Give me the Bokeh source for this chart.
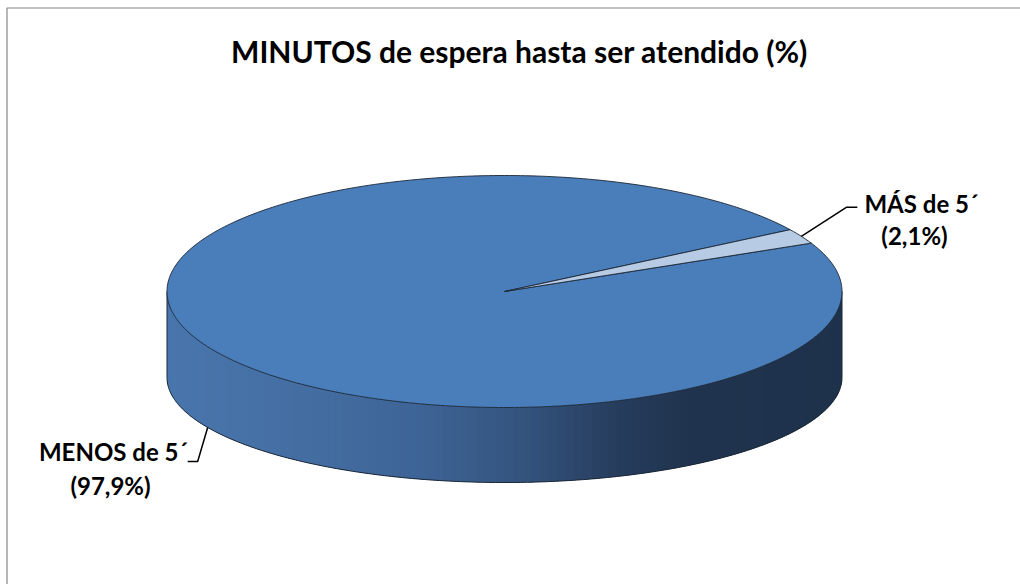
import numpy as np
from bokeh.plotting import figure
from bokeh.models import Range1d
from bokeh.embed import file_html
from bokeh.resources import INLINE
from bokeh.core.properties import value

# ---- data ----
categories = ["MENOS de 5´", "MÁS de 5´"]
values = [97.9, 2.1]
pct_labels = ["(97,9%)", "(2,1%)"]
slice_colors = ["#4A7EBB", "#B7CBE4"]
title = "MINUTOS de espera hasta ser atendido (%)"

# ---- layout ----
W, H = 1020, 584
p = figure(width=W, height=H, x_range=Range1d(0, W), y_range=Range1d(H, 0),
           output_backend="svg", toolbar_location=None, min_border=0)
p.axis.visible = False
p.grid.visible = False
p.outline_line_color = None
p.background_fill_color = "white"
p.border_fill_color = "white"

FONT = value("Lato")
cx, cy, rx, ry = 504.0, 291.0, 337.5, 116.0      # top ellipse
cyb, ryb = 377.0, 105.0                           # bottom ellipse (perspective)
start_deg = 32.2                                  # first slice starts here (parametric, ccw)
edge = "#1a2636"

def top_pt(t):
    return cx + rx * np.cos(t), cy - ry * np.sin(t)

def bot_pt(t):
    return cx + rx * np.cos(t), cyb - ryb * np.sin(t)

# chart-area border
p.quad(left=[6.5], right=[1040], top=[7.5], bottom=[620], fill_color=None,
       line_color="#878787", line_width=1.2)

# ---- side (front half) with horizontal gradient ----
stops_x = [167, 260, 420, 520, 620, 690, 842]
stops_c = [(72, 117, 172), (70, 113, 166), (62, 100, 150), (52, 84, 126),
           (38, 60, 92), (32, 51, 78), (31, 50, 76)]

def grad(x):
    return "#%02x%02x%02x" % tuple(int(round(np.interp(x, stops_x, [c[k] for c in stops_c]))) for k in range(3))

N = 120
ts = np.linspace(np.pi, 2 * np.pi, N + 1)
xs_s, ys_s, cs_s = [], [], []
for i in range(N):
    t1 = ts[min(i + 2, N)]
    tt = np.linspace(ts[i], t1, 6)
    tx, ty = top_pt(tt)
    bx, by = bot_pt(tt[::-1])
    xs_s.append(list(np.r_[tx, bx]))
    ys_s.append(list(np.r_[ty, by]))
    cs_s.append(grad(np.mean(top_pt(np.linspace(ts[i], ts[i + 1], 3))[0])))
p.patches(xs_s, ys_s, fill_color=cs_s, line_color=None)

tt = np.linspace(np.pi, 2 * np.pi, 300)
bx, by = bot_pt(tt)
p.line(list(bx), list(by), line_color=edge, line_width=1)
p.line([cx - rx, cx - rx], [cy, cyb], line_color=edge, line_width=1)
p.line([cx + rx, cx + rx], [cy, cyb], line_color=edge, line_width=1)

# ---- top slices ----
total = float(sum(values))
a = np.deg2rad(start_deg)
mids = []
for v, col in zip(values, slice_colors):
    span = 2 * np.pi * v / total
    tt = np.linspace(a, a + span, max(4, int(400 * v / total)))
    px, py = top_pt(tt)
    p.patch(list(np.r_[cx, px, cx]), list(np.r_[cy, py, cy]), fill_color=col,
            line_color=edge, line_width=0.9, line_join="round")
    mids.append(a + span / 2)
    a += span

# ---- labels with leader lines ----
# MENOS (big slice): anchor on bottom rim
ax0, ay0 = bot_pt(mids[0])
p.line([ax0, ax0 - 10, ax0 - 20], [ay0, ay0 + 34, ay0 + 34], line_color="black", line_width=1.5)
p.text(x=[113], y=[451], text=[categories[0]], text_font=FONT, text_font_style="bold",
       text_font_size="24px", text_align="center", text_baseline="middle", text_color="black")
p.text(x=[110], y=[485], text=[pct_labels[0]], text_font=FONT, text_font_style="bold",
       text_font_size="24px", text_align="center", text_baseline="middle", text_color="black")

# MÁS (small slice): anchor on top rim
ax1, ay1 = top_pt(mids[1])
p.line([ax1, ax1 + 45, ax1 + 56], [ay1, ay1 - 29, ay1 - 29], line_color="black", line_width=1.5)
p.text(x=[921], y=[203], text=[categories[1]], text_font=FONT, text_font_style="bold",
       text_font_size="24px", text_align="center", text_baseline="middle", text_color="black")
p.text(x=[914], y=[235], text=[pct_labels[1]], text_font=FONT, text_font_style="bold",
       text_font_size="24px", text_align="center", text_baseline="middle", text_color="black")

# ---- title ----
p.text(x=[519], y=[50], text=[title], text_font=FONT, text_font_style="bold",
       text_font_size="30px", text_align="center", text_baseline="middle", text_color="black")

open("out.html", "w").write(file_html(p, INLINE))
